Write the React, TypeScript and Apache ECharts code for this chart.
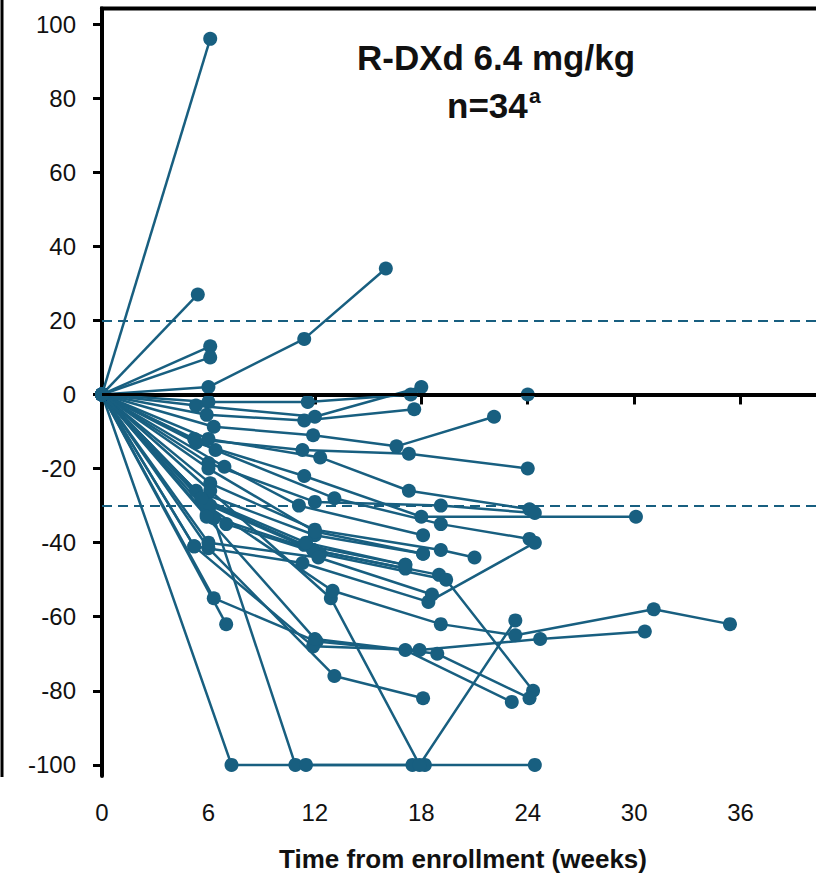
import React, { useEffect, useRef } from "react";
import * as echarts from "echarts";

// ---- data: [week, % change from baseline] per patient ----
const p01 = [[0, 0], [6.1, 96]];
const p02 = [[0, 0], [5.4, 27]];
const p03 = [[0, 0], [6.1, 13]];
const p04 = [[0, 0], [6.1, 10]];
const p05 = [[0, 0], [6.0, 2], [11.4, 15], [16.0, 34]];
const p06 = [[0, 0], [6.0, -2], [11.6, -2], [17.4, 0], [24.0, 0]];
const p07 = [[0, 0], [5.3, -3], [12.0, -6], [18.0, 2]];
const p08 = [[0, 0], [5.9, -5.5], [11.4, -7], [17.6, -4]];
const p09 = [[0, 0], [6.3, -8.7], [11.9, -11], [16.6, -14], [22.1, -6]];
const p10 = [[0, 0], [5.2, -12], [11.3, -15], [17.3, -16], [24.0, -20]];
const p11 = [[0, 0], [6.0, -12], [12.3, -17], [17.3, -26], [24.1, -31]];
const p12 = [[0, 0], [5.3, -13], [11.4, -22], [18.0, -33], [30.1, -33]];
const p13 = [[0, 0], [6.4, -15], [13.1, -28], [19.1, -35], [24.1, -39]];
const p14 = [[0, 0], [6.0, -18.5], [12.0, -29], [19.1, -30], [24.4, -32]];
const p15 = [[0, 0], [6.9, -19.5], [11.1, -30], [18.1, -38]];
const p16 = [[0, 0], [6.1, -24], [12.0, -36.5], [19.1, -42], [21.0, -44]];
const p17 = [[0, 0], [5.3, -26], [12.0, -38], [18.1, -43]];
const p18 = [[0, 0], [5.9, -29], [11.4, -40.6], [17.1, -46]];
const p19 = [[0, 0], [6.3, -33.4], [10.9, -100], [17.5, -100], [24.4, -100]];
const p20 = [[0, 0], [5.9, -32.5], [11.9, -42], [19.0, -48.7]];
const p21 = [[0, 0], [7.0, -35], [12.3, -43], [19.4, -50], [24.3, -80]];
const p22 = [[0, 0], [5.2, -41], [11.3, -45.5], [18.4, -56], [24.4, -40]];
const p23 = [[0, 0], [6.0, -41.5], [13.1, -76], [18.1, -82]];
const p24 = [[0, 0], [6.3, -55], [12.1, -66.7], [17.1, -69], [23.1, -83]];
const p25 = [[0, 0], [7.0, -62]];
const p26 = [[0, 0], [7.3, -100], [11.5, -100], [18.2, -100]];
const p27 = [[0, 0], [6.1, -26], [12.9, -55], [17.9, -100], [23.3, -61]];
const p28 = [[0, 0], [5.9, -30], [13.0, -53], [19.1, -62], [23.3, -65], [31.1, -58], [35.4, -62]];
const p29 = [[0, 0], [5.2, -41], [11.9, -68], [17.9, -69], [24.7, -66], [30.6, -64]];
const p30 = [[0, 0], [6.1, -30], [11.9, -42], [17.1, -47]];
const p31 = [[0, 0], [6.0, -40], [12.2, -44], [18.6, -54]];
const p32 = [[0, 0], [5.9, -33], [12.0, -66], [18.9, -70], [24.1, -82]];
const p33 = [[0, 0], [6.0, -20], [12.0, -37], [18.1, -43]];
const p34 = [[0, 0], [5.6, -28], [11.5, -40], [17.1, -46]];

const patients = [
  p01, p02, p03, p04, p05, p06, p07, p08, p09, p10, p11, p12, p13, p14, p15, p16, p17,
  p18, p19, p20, p21, p22, p23, p24, p25, p26, p27, p28, p29, p30, p31, p32, p33, p34,
];

const xTicks = [0, 6, 12, 18, 24, 30, 36];
const yTicks = [-100, -80, -60, -40, -20, 0, 20, 40, 60, 80, 100];
const refDashed = [20, -30];
const refSolid = [0];

const titleText = "R-DXd 6.4 mg/kg";
const nText = "n=34";
const nSup = "a";
const xTitle = "Time from enrollment (weeks)";

const BLUE = "#185f80";
const FONT = "'Liberation Sans', Arial, Helvetica, sans-serif";

export default function App() {
  const ref = useRef<HTMLDivElement>(null);
  useEffect(() => {
    document.body.style.margin = "0";
    const chart = echarts.init(ref.current!, null, { renderer: "svg" });
    const series: any[] = [
      {
        type: "line",
        data: [],
        z: 2,
        silent: true,
        markLine: {
          silent: true,
          symbol: ["none", "none"],
          label: { show: false },
          data: [
            ...refDashed.map((v) => ({
              yAxis: v,
              lineStyle: { color: BLUE, width: 2, type: [10, 6] },
            })),
            ...refSolid.map((v) => ({
              yAxis: v,
              lineStyle: { color: "#000", width: 3, type: "solid" },
            })),
          ],
        },
      },
      ...patients.map((d) => ({
        type: "line",
        data: d,
        z: 3,
        clip: false,
        silent: true,
        symbol: "circle",
        symbolSize: 14,
        showSymbol: true,
        showAllSymbol: true,
        lineStyle: { color: BLUE, width: 2.5 },
        itemStyle: { color: BLUE },
      })),
    ];
    chart.setOption({
      animation: false,
      grid: { left: 102, right: 0, top: 8.5, bottom: 100 },
      xAxis: {
        type: "value",
        min: 0,
        max: 40.25,
        splitLine: { show: false },
        axisLine: { lineStyle: { color: "#000", width: 4 } },
        axisTick: { customValues: xTicks, length: 10, lineStyle: { color: "#000", width: 3 } },
        axisLabel: {
          customValues: xTicks,
          margin: 24,
          fontSize: 24,
          fontFamily: FONT,
          color: "#111",
        },
      },
      yAxis: {
        type: "value",
        min: -103,
        max: 104.2,
        splitLine: { show: false },
        axisLine: { onZero: false, lineStyle: { color: "#000", width: 4 } },
        axisTick: { customValues: yTicks, length: 9, lineStyle: { color: "#000", width: 3 } },
        axisLabel: {
          customValues: yTicks,
          margin: 26,
          fontSize: 24,
          fontFamily: FONT,
          color: "#111",
        },
      },
      graphic: [
        { type: "line", shape: { x1: 100, y1: 8.5, x2: 816, y2: 8.5 }, style: { stroke: "#000", lineWidth: 4 } },
        { type: "line", shape: { x1: 2, y1: 0, x2: 2, y2: 777 }, style: { stroke: "#000", lineWidth: 3 } },
        {
          type: "text",
          x: 496,
          y: 57,
          style: { text: titleText, font: `bold 35px ${FONT}`, fill: "#111", align: "center", verticalAlign: "middle" },
        },
        {
          type: "text",
          x: 447,
          y: 105,
          style: { text: nText, font: `bold 35px ${FONT}`, fill: "#111", align: "left", verticalAlign: "middle" },
        },
        {
          type: "text",
          x: 529,
          y: 95,
          style: { text: nSup, font: `bold 21px ${FONT}`, fill: "#111", align: "left", verticalAlign: "middle" },
        },
        {
          type: "text",
          x: 463,
          y: 859,
          style: { text: xTitle, font: `bold 26px ${FONT}`, fill: "#111", align: "center", verticalAlign: "middle" },
        },
      ],
      series,
    });
    return () => chart.dispose();
  }, []);
  return <div ref={ref} style={{ width: 816, height: 876 }} />;
}
